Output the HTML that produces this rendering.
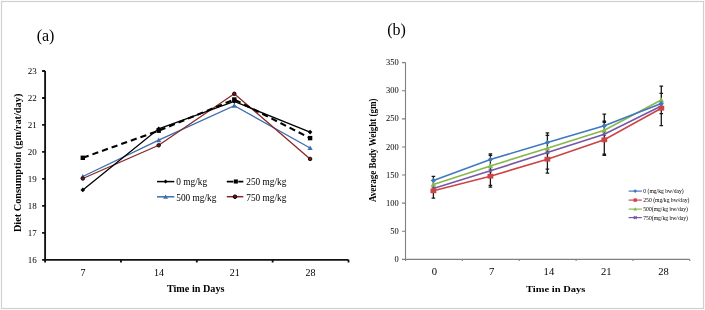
<!DOCTYPE html>
<html><head><meta charset="utf-8"><style>.s{font-family:"Liberation Serif",serif}html,body{margin:0;padding:0;background:#fff;width:705px;height:310px;overflow:hidden}</style></head><body>
<svg width="705" height="310" viewBox="0 0 705 310" style="display:block;will-change:transform">
<rect x="0" y="0" width="705" height="310" fill="#fff"/>
<rect x="1.5" y="1.5" width="702" height="307" fill="none" stroke="#d0d0d0" stroke-width="1.2"/>
<g class="s" fill="#000">
<text x="36.7" y="41.1" font-size="16">(a)</text>
</g>
<path d="M45.1,71 V259.8 H348.5" fill="none" stroke="#111" stroke-width="1.85"/>
<path d="M42.1,259.8 H45.1 M42.1,232.83 H45.1 M42.1,205.86 H45.1 M42.1,178.89 H45.1 M42.1,151.91 H45.1 M42.1,124.94 H45.1 M42.1,97.97 H45.1 M42.1,71 H45.1 M45.1,259.8 V262.6 M120.95,259.8 V262.6 M196.8,259.8 V262.6 M272.65,259.8 V262.6 M348.5,259.8 V262.6" fill="none" stroke="#111" stroke-width="1.85"/>
<g class="s" font-size="9" fill="#000" text-anchor="end">
<text x="36.8" y="262.9">16</text>
<text x="36.8" y="235.93">17</text>
<text x="36.8" y="208.96">18</text>
<text x="36.8" y="181.99">19</text>
<text x="36.8" y="155.01">20</text>
<text x="36.8" y="128.04">21</text>
<text x="36.8" y="101.07">22</text>
<text x="36.8" y="74.1">23</text>
</g>
<g class="s" font-size="10" fill="#000" text-anchor="middle">
<text x="83.03" y="275.5">7</text>
<text x="158.88" y="275.5">14</text>
<text x="234.72" y="275.5">21</text>
<text x="310.57" y="275.5">28</text>
</g>
<text x="195.7" y="292.3" class="s" font-weight="bold" font-size="10.2" text-anchor="middle">Time in Days</text>
<text transform="translate(21.2,162.9) rotate(-90)" class="s" font-weight="bold" font-size="10.3" text-anchor="middle">Diet Consumption (gm/rat/day)</text>
<polyline points="82.8,176.5 158.7,140.2 234.3,105.7 310.1,148" fill="none" stroke="#3F6DAF" stroke-width="1.35"/>
<polyline points="82.8,178.5 158.7,145.3 234.3,93.8 310.1,158.9" fill="none" stroke="#862828" stroke-width="1.3"/>
<polyline points="82.8,189.9 158.7,128.8 234.3,101.5 310.1,132.1" fill="none" stroke="#000" stroke-width="1.3"/>
<polyline points="82.8,157.8 158.7,130.7 234.3,99.5 310.1,138.1" fill="none" stroke="#000" stroke-width="2.1" stroke-dasharray="6.2,4"/>
<path d="M82.8,173.9 L85.4,178.58 L80.2,178.58Z" fill="#3F6DAF"/>
<path d="M158.7,137.6 L161.3,142.28 L156.1,142.28Z" fill="#3F6DAF"/>
<path d="M234.3,103.1 L236.9,107.78 L231.7,107.78Z" fill="#3F6DAF"/>
<path d="M310.1,145.4 L312.7,150.08 L307.5,150.08Z" fill="#3F6DAF"/>
<circle cx="82.8" cy="178.5" r="1.75" fill="#6a1a1a" stroke="#1a0505" stroke-width="1"/>
<circle cx="158.7" cy="145.3" r="1.75" fill="#6a1a1a" stroke="#1a0505" stroke-width="1"/>
<circle cx="234.3" cy="93.8" r="1.75" fill="#6a1a1a" stroke="#1a0505" stroke-width="1"/>
<circle cx="310.1" cy="158.9" r="1.75" fill="#6a1a1a" stroke="#1a0505" stroke-width="1"/>
<path d="M82.8,187.6 L85.1,189.9 L82.8,192.2 L80.5,189.9Z" fill="#000"/>
<path d="M158.7,126.5 L161,128.8 L158.7,131.1 L156.4,128.8Z" fill="#000"/>
<path d="M234.3,99.2 L236.6,101.5 L234.3,103.8 L232,101.5Z" fill="#000"/>
<path d="M310.1,129.8 L312.4,132.1 L310.1,134.4 L307.8,132.1Z" fill="#000"/>
<rect x="80.6" y="155.6" width="4.4" height="4.4" fill="#000"/>
<rect x="156.5" y="128.5" width="4.4" height="4.4" fill="#000"/>
<rect x="232.1" y="97.3" width="4.4" height="4.4" fill="#000"/>
<rect x="307.9" y="135.9" width="4.4" height="4.4" fill="#000"/>
<g class="s" font-size="9.3" fill="#000">
<text x="176.3" y="185.1">0 mg/kg</text>
<text x="246.3" y="185.1">250 mg/kg</text>
<text x="176.3" y="200.5">500 mg/kg</text>
<text x="246.3" y="200.5">750 mg/kg</text>
</g>
<path d="M157,181.6 H174.3" stroke="#000" stroke-width="1.5"/><path d="M165.6,179.6 L167.6,181.6 L165.6,183.6 L163.6,181.6Z" fill="#000"/>
<path d="M226.8,181.6 H233.4 M238.3,181.6 H243.3" stroke="#000" stroke-width="1.9"/><rect x="233.8" y="179.45" width="4.1" height="4.1" fill="#000"/>
<path d="M157,196.8 H174.3" stroke="#3F6DAF" stroke-width="1.5"/><path d="M165.6,194.4 L168,198.72 L163.2,198.72Z" fill="#3F6DAF"/>
<path d="M226.8,196.7 H243.3" stroke="#862828" stroke-width="1.5"/><circle cx="235" cy="196.7" r="1.8" fill="#5a1a1a" stroke="#000" stroke-width="1"/>
<text x="387.2" y="35.4" class="s" font-size="16">(b)</text>
<path d="M405.5,62.6 V259.4 H689.8 M402.0,259.4 H405.5 M402.0,231.29 H405.5 M402.0,203.17 H405.5 M402.0,175.06 H405.5 M402.0,146.94 H405.5 M402.0,118.83 H405.5 M402.0,90.71 H405.5 M402.0,62.6 H405.5 M405.5,259.4 V260.9 M462.36,259.4 V260.9 M519.22,259.4 V260.9 M576.08,259.4 V260.9 M632.94,259.4 V260.9 M689.8,259.4 V260.9" fill="none" stroke="#808080" stroke-width="1.1"/>
<g class="s" font-size="9.2" fill="#000" text-anchor="end">
<text transform="translate(398.8,262) scale(0.92,1)">0</text>
<text transform="translate(398.8,233.89) scale(0.92,1)">50</text>
<text transform="translate(398.8,205.77) scale(0.92,1)">100</text>
<text transform="translate(398.8,177.66) scale(0.92,1)">150</text>
<text transform="translate(398.8,149.54) scale(0.92,1)">200</text>
<text transform="translate(398.8,121.43) scale(0.92,1)">250</text>
<text transform="translate(398.8,93.31) scale(0.92,1)">300</text>
<text transform="translate(398.8,65.2) scale(0.92,1)">350</text>
</g>
<g class="s" font-size="10.6" fill="#000" text-anchor="middle">
<text x="434.3" y="274.7">0</text>
<text x="491.6" y="274.7">7</text>
<text x="548.9" y="274.7">14</text>
<text x="606.2" y="274.7">21</text>
<text x="663.5" y="274.7">28</text>
</g>
<text transform="translate(555.7,291.7) scale(1,0.85)" class="s" font-weight="bold" font-size="10.5" text-anchor="middle">Time in Days</text>
<text transform="translate(376.1,150.3) rotate(-90) scale(0.85,1)" class="s" font-weight="bold" font-size="10.6" text-anchor="middle">Average Body Weight (gm)</text>
<path d="M433.4,176.3 V198.1 M431.6,176.3 H435.2 M431.6,198.1 H435.2 M490.4,153.8 V187.2 M488.6,153.8 H492.2 M488.6,155.3 H492.2 M488.6,185.4 H492.2 M488.6,187.2 H492.2 M547.4,132.8 V173.2 M545.6,132.8 H549.2 M545.6,135.3 H549.2 M545.6,153 H549.2 M545.6,169.1 H549.2 M545.6,173.2 H549.2 M604.3,114.1 V155.4 M602.5,114.1 H606.1 M602.5,121.1 H606.1 M602.5,122.3 H606.1 M602.5,154.2 H606.1 M602.5,155.4 H606.1 M661.3,86.2 V125.7 M659.5,86.2 H663.1 M659.5,93.4 H663.1 M659.5,113.7 H663.1 M659.5,125.7 H663.1" fill="none" stroke="#1a1a1a" stroke-width="1.3"/>
<polyline points="433.4,188.4 490.4,170.8 547.4,152.6 604.3,134.2 661.3,106" fill="none" stroke="#7558A8" stroke-width="1.6"/>
<polyline points="433.4,190.8 490.4,176.2 547.4,159.2 604.3,139.8 661.3,108.2" fill="none" stroke="#CC4444" stroke-width="1.6"/>
<polyline points="433.4,184.4 490.4,165.9 547.4,148.2 604.3,130.2 661.3,100" fill="none" stroke="#86B84A" stroke-width="1.6"/>
<polyline points="433.4,180.4 490.4,159.5 547.4,142.5 604.3,125.8 661.3,103.6" fill="none" stroke="#3F78C0" stroke-width="1.6"/>
<path d="M431.8,186.8 L435,190 M431.8,190 L435,186.8" stroke="#7558A8" stroke-width="1.2"/>
<path d="M488.8,169.2 L492,172.4 M488.8,172.4 L492,169.2" stroke="#7558A8" stroke-width="1.2"/>
<path d="M545.8,151 L549,154.2 M545.8,154.2 L549,151" stroke="#7558A8" stroke-width="1.2"/>
<path d="M602.7,132.6 L605.9,135.8 M602.7,135.8 L605.9,132.6" stroke="#7558A8" stroke-width="1.2"/>
<path d="M659.7,104.4 L662.9,107.6 M659.7,107.6 L662.9,104.4" stroke="#7558A8" stroke-width="1.2"/>
<rect x="430.5" y="188.4" width="5.8" height="4.8" fill="#CC4444"/>
<rect x="487.5" y="173.8" width="5.8" height="4.8" fill="#CC4444"/>
<rect x="544.5" y="156.8" width="5.8" height="4.8" fill="#CC4444"/>
<rect x="601.4" y="137.4" width="5.8" height="4.8" fill="#CC4444"/>
<rect x="658.4" y="105.8" width="5.8" height="4.8" fill="#CC4444"/>
<path d="M433.4,181.6 L436.2,186.64 L430.6,186.64Z" fill="#86B84A"/>
<path d="M490.4,163.1 L493.2,168.14 L487.6,168.14Z" fill="#86B84A"/>
<path d="M547.4,145.4 L550.2,150.44 L544.6,150.44Z" fill="#86B84A"/>
<path d="M604.3,127.4 L607.1,132.44 L601.5,132.44Z" fill="#86B84A"/>
<path d="M661.3,97.2 L664.1,102.24 L658.5,102.24Z" fill="#86B84A"/>
<path d="M433.4,177.8 L436,180.4 L433.4,183 L430.8,180.4Z" fill="#3F78C0"/>
<path d="M490.4,156.9 L493,159.5 L490.4,162.1 L487.8,159.5Z" fill="#3F78C0"/>
<path d="M547.4,139.9 L550,142.5 L547.4,145.1 L544.8,142.5Z" fill="#3F78C0"/>
<path d="M604.3,123.2 L606.9,125.8 L604.3,128.4 L601.7,125.8Z" fill="#3F78C0"/>
<path d="M661.3,101 L663.9,103.6 L661.3,106.2 L658.7,103.6Z" fill="#3F78C0"/>
<g class="s" font-size="5.65" fill="#000">
<text x="643.3" y="193.1">0 (mg/kg bw/day)</text>
<text x="643.3" y="202.1">250 (mg/kg bw/day)</text>
<text x="643.3" y="211.1">500(mg/kg bw/day)</text>
<text x="643.3" y="219.6">750(mg/kg bw/day)</text>
</g>
<path d="M628.6,191.1 H641.9" stroke="#3F78C0" stroke-width="1.15"/>
<path d="M635.2,189.2 L637.1,191.1 L635.2,193 L633.3,191.1Z" fill="#3F78C0"/>
<path d="M628.6,200.1 H641.9" stroke="#CC4444" stroke-width="1.15"/>
<rect x="633.5" y="198.4" width="3.4" height="3.4" fill="#CC4444"/>
<path d="M628.6,209.1 H641.9" stroke="#86B84A" stroke-width="1.15"/>
<path d="M635.2,207.2 L637.1,210.62 L633.3,210.62Z" fill="#86B84A"/>
<path d="M628.6,217.6 H641.9" stroke="#7558A8" stroke-width="1.15"/>
<path d="M633.8,216.2 L636.6,219 M633.8,219 L636.6,216.2" stroke="#7558A8" stroke-width="1.2"/>
</svg>
</body></html>
